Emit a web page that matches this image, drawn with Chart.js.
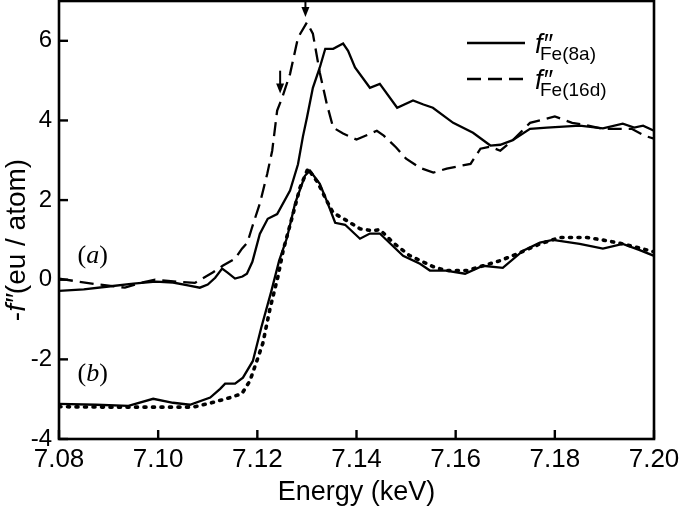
<!DOCTYPE html>
<html lang="en">
  <head>
    <meta charset="UTF-8" />
    <title>Fe f'' spectra</title>
    <style>
      body {
        margin: 0;
        background-color: #ffffff;
      }
      canvas {
        display: block;
      }
    </style>
  </head>
  <body>
    <canvas id="specChart" width="680" height="509"></canvas>

    <script src="https://cdn.jsdelivr.net/npm/chart.js"></script>
    <script>
      // energy (keV) / -f'' values
      var energyA8 = [7.080, 7.085, 7.090, 7.095, 7.0995, 7.103, 7.106, 7.1084, 7.110, 7.1115, 7.1129, 7.114, 7.1155, 7.117, 7.1179, 7.119, 7.1205, 7.1221, 7.124, 7.1266, 7.1282, 7.1292, 7.130, 7.1312, 7.1326, 7.1337, 7.1353, 7.1373, 7.1383, 7.1397, 7.1427, 7.1447, 7.1482, 7.1514, 7.1535, 7.1554, 7.1595, 7.1635, 7.167, 7.169, 7.1714, 7.175, 7.1784, 7.185, 7.1897, 7.1937, 7.196, 7.1978, 7.200];
      var fA8 = [-0.28, -0.24, -0.17, -0.10, -0.05, -0.07, -0.14, -0.20, -0.12, 0.05, 0.28, 0.18, 0.03, 0.08, 0.15, 0.45, 1.15, 1.53, 1.65, 2.24, 2.9, 3.6, 4.07, 4.82, 5.33, 5.80, 5.80, 5.93, 5.75, 5.33, 4.82, 4.92, 4.32, 4.50, 4.40, 4.32, 3.94, 3.69, 3.37, 3.39, 3.50, 3.79, 3.82, 3.87, 3.80, 3.92, 3.82, 3.87, 3.74];

      var energyA16 = [7.080, 7.084, 7.088, 7.0933, 7.0965, 7.0994, 7.102, 7.1074, 7.111, 7.113, 7.1155, 7.1169, 7.118, 7.1189, 7.1205, 7.122, 7.123, 7.124, 7.125, 7.1266, 7.1282, 7.130, 7.1312, 7.1326, 7.134, 7.1353, 7.1373, 7.140, 7.1441, 7.1455, 7.148, 7.150, 7.1528, 7.1555, 7.1582, 7.1609, 7.163, 7.165, 7.167, 7.169, 7.1715, 7.175, 7.180, 7.1835, 7.186, 7.1897, 7.1955, 7.198, 7.200];
      var fA16 = [0.03, -0.05, -0.12, -0.20, -0.08, 0.0, -0.03, -0.08, 0.18, 0.35, 0.53, 0.78, 0.93, 1.30, 1.91, 2.66, 3.24, 4.25, 4.57, 5.17, 6.08, 6.46, 6.18, 5.2, 4.42, 3.82, 3.67, 3.52, 3.74, 3.62, 3.32, 3.04, 2.81, 2.69, 2.79, 2.86, 2.91, 3.29, 3.34, 3.24, 3.5, 3.94, 4.10, 3.94, 3.89, 3.79, 3.79, 3.62, 3.54];

      var energyB8 = [7.080, 7.0875, 7.094, 7.099, 7.103, 7.1064, 7.1105, 7.1125, 7.1135, 7.1155, 7.1171, 7.1191, 7.1208, 7.1228, 7.1244, 7.126, 7.1276, 7.1296, 7.1306, 7.1326, 7.134, 7.1357, 7.1377, 7.1407, 7.1427, 7.1447, 7.1494, 7.1528, 7.1548, 7.158, 7.1619, 7.1655, 7.1695, 7.1736, 7.177, 7.1796, 7.185, 7.1897, 7.1937, 7.197, 7.200];
      var fB8 = [-3.12, -3.14, -3.17, -2.99, -3.09, -3.14, -2.96, -2.74, -2.61, -2.61, -2.46, -2.04, -1.2, -0.3, 0.48, 1.06, 1.91, 2.61, 2.74, 2.41, 1.98, 1.43, 1.38, 1.03, 1.16, 1.16, 0.6, 0.4, 0.23, 0.23, 0.15, 0.35, 0.3, 0.73, 0.93, 1.0, 0.9, 0.78, 0.9, 0.75, 0.6];

      var energyB16 = [7.080, 7.090, 7.100, 7.107, 7.1105, 7.1145, 7.1169, 7.1185, 7.1199, 7.1211, 7.1226, 7.1242, 7.1252, 7.127, 7.1286, 7.1302, 7.1322, 7.134, 7.1353, 7.1381, 7.1407, 7.1433, 7.1447, 7.1474, 7.1508, 7.1554, 7.158, 7.1623, 7.1663, 7.169, 7.173, 7.177, 7.181, 7.1865, 7.1905, 7.1937, 7.197, 7.200];
      var fB16 = [-3.19, -3.2, -3.2, -3.2, -3.1, -2.96, -2.86, -2.54, -2.04, -1.6, -0.7, 0.1, 0.73, 1.56, 2.31, 2.79, 2.44, 1.98, 1.68, 1.48, 1.28, 1.23, 1.26, 0.93, 0.6, 0.33, 0.23, 0.23, 0.38, 0.48, 0.68, 0.9, 1.06, 1.06, 0.98, 0.9, 0.8, 0.7];

      var xTicks = [7.08, 7.10, 7.12, 7.14, 7.16, 7.18, 7.20];
      var yTicks = [-4, -2, 0, 2, 4, 6];

      // arrows marking the edge features: [energy, from, to]
      var arrowMarks = [
        [7.1297, 7.0, 6.6],
        [7.1246, 5.25, 4.68],
      ];
      // curve set labels: [text, energy, value]
      var setLabels = [
        ["a", 7.0868, 0.42],
        ["b", 7.0868, -2.55],
      ];

      function toPoints(xs, ys) {
        var pts = [];
        for (var i = 0; i < xs.length; i++) {
          pts.push({ x: xs[i], y: ys[i] });
        }
        return pts;
      }

      var sansFont = "'Liberation Sans', Arial, sans-serif";

      var framePlugin = {
        id: "framePlugin",
        afterDraw: function (chart) {
          var ctx = chart.ctx;
          var area = chart.chartArea;
          var xs = chart.scales.x;
          var ys = chart.scales.y;
          ctx.save();
          ctx.strokeStyle = "#000";
          ctx.fillStyle = "#000";
          ctx.lineWidth = 2.6;
          ctx.strokeRect(area.left, area.top, area.right - area.left, area.bottom - area.top);

          // inward tick marks
          ctx.lineWidth = 2.4;
          xTicks.forEach(function (v) {
            var px = xs.getPixelForValue(v);
            ctx.beginPath();
            ctx.moveTo(px, area.bottom);
            ctx.lineTo(px, area.bottom - 9);
            ctx.stroke();
          });
          yTicks.forEach(function (v) {
            var py = ys.getPixelForValue(v);
            ctx.beginPath();
            ctx.moveTo(area.left, py);
            ctx.lineTo(area.left + 9, py);
            ctx.stroke();
          });

          // arrows
          ctx.lineWidth = 2;
          arrowMarks.forEach(function (a) {
            var px = xs.getPixelForValue(a[0]);
            var y0 = ys.getPixelForValue(a[1]);
            var y1 = ys.getPixelForValue(a[2]);
            ctx.beginPath();
            ctx.moveTo(px, y0);
            ctx.lineTo(px, y1 - 8);
            ctx.stroke();
            ctx.beginPath();
            ctx.moveTo(px - 4, y1 - 10);
            ctx.lineTo(px + 4, y1 - 10);
            ctx.lineTo(px, y1);
            ctx.closePath();
            ctx.fill();
          });

          // (a) and (b)
          ctx.textBaseline = "alphabetic";
          setLabels.forEach(function (l) {
            var px = xs.getPixelForValue(l[1]);
            var py = ys.getPixelForValue(l[2]);
            ctx.font = "26px 'Liberation Serif', serif";
            var wOpen = ctx.measureText("(").width;
            var wClose = ctx.measureText(")").width;
            ctx.font = "italic 26px 'Liberation Serif', serif";
            var wMid = ctx.measureText(l[0]).width;
            var x = px - (wOpen + wMid + wClose) / 2;
            ctx.font = "26px 'Liberation Serif', serif";
            ctx.fillText("(", x, py);
            ctx.font = "italic 26px 'Liberation Serif', serif";
            ctx.fillText(l[0], x + wOpen, py);
            ctx.font = "26px 'Liberation Serif', serif";
            ctx.fillText(")", x + wOpen + wMid, py);
          });

          // legend
          var legendSubs = ["Fe(8a)", "Fe(16d)"];
          [0, 1].forEach(function (i) {
            var ds = chart.data.datasets[i];
            var ly = 43 + i * 36;
            var lx0 = area.right - 187;
            ctx.save();
            ctx.lineWidth = ds.borderWidth;
            ctx.setLineDash(ds.borderDash || []);
            ctx.beginPath();
            ctx.moveTo(lx0, ly);
            ctx.lineTo(lx0 + 58, ly);
            ctx.stroke();
            ctx.restore();
            ctx.font = "italic 27px " + sansFont;
            ctx.fillText("f\u2033", lx0 + 68, ly + 10);
            ctx.font = "19px " + sansFont;
            ctx.fillText(legendSubs[i], lx0 + 73, ly + 17);
          });

          // axis titles
          ctx.font = "27px " + sansFont;
          ctx.textAlign = "center";
          ctx.fillText("Energy (keV)", (area.left + area.right) / 2, 500);

          ctx.translate(25, 240);
          ctx.rotate(-Math.PI / 2);
          ctx.textAlign = "left";
          var parts = [
            ["-", "28px " + sansFont],
            ["f\u2033", "italic 28px " + sansFont],
            ["(eu / atom)", "28px " + sansFont],
          ];
          var total = 0;
          parts.forEach(function (p) {
            ctx.font = p[1];
            total += ctx.measureText(p[0]).width;
          });
          var tx = -total / 2;
          parts.forEach(function (p) {
            ctx.font = p[1];
            ctx.fillText(p[0], tx, 0);
            tx += ctx.measureText(p[0]).width;
          });
          ctx.restore();
        },
      };

      var ctx = document.getElementById("specChart").getContext("2d");
      var specChart = new Chart(ctx, {
        type: "line",
        data: {
          datasets: [
            {
              label: "f''Fe(8a)",
              data: toPoints(energyA8, fA8),
              borderColor: "#000",
              borderWidth: 2.3,
              pointRadius: 0,
              fill: false,
            },
            {
              label: "f''Fe(16d)",
              data: toPoints(energyA16, fA16),
              borderColor: "#000",
              borderWidth: 2.3,
              borderDash: [14, 7],
              pointRadius: 0,
              fill: false,
            },
            {
              label: "f''Fe(8a) (b)",
              data: toPoints(energyB8, fB8),
              borderColor: "#000",
              borderWidth: 2.3,
              pointRadius: 0,
              fill: false,
            },
            {
              label: "f''Fe(16d) (b)",
              data: toPoints(energyB16, fB16),
              borderColor: "#000",
              borderWidth: 3.6,
              borderDash: [2, 6.5],
              borderCapStyle: "round",
              pointRadius: 0,
              fill: false,
            },
          ],
        },
        options: {
          responsive: false,
          animation: false,
          devicePixelRatio: 1,
          layout: {
            padding: { top: 1, right: 26, left: 0, bottom: 0 },
          },
          plugins: {
            legend: { display: false },
            tooltip: { enabled: false },
          },
          scales: {
            x: {
              type: "linear",
              min: 7.08,
              max: 7.2,
              afterBuildTicks: function (scale) {
                scale.ticks = xTicks.map(function (v) {
                  return { value: v };
                });
              },
              afterFit: function (scale) {
                scale.height = 70;
                scale.paddingLeft = 0;
                scale.paddingRight = 0;
              },
              grid: { display: false, drawTicks: false },
              border: { display: false },
              ticks: {
                color: "#000",
                padding: 5,
                maxRotation: 0,
                font: { family: sansFont, size: 26 },
                callback: function (value) {
                  return Number(value).toFixed(2);
                },
              },
            },
            y: {
              type: "linear",
              min: -4,
              max: 7,
              afterBuildTicks: function (scale) {
                scale.ticks = yTicks.map(function (v) {
                  return { value: v };
                });
              },
              afterFit: function (scale) {
                scale.width = 59;
                scale.paddingTop = 0;
                scale.paddingBottom = 0;
              },
              grid: { display: false, drawTicks: false },
              border: { display: false },
              ticks: {
                color: "#000",
                padding: 7,
                font: { family: sansFont, size: 24 },
              },
            },
          },
        },
        plugins: [framePlugin],
      });
    </script>
  </body>
</html>
